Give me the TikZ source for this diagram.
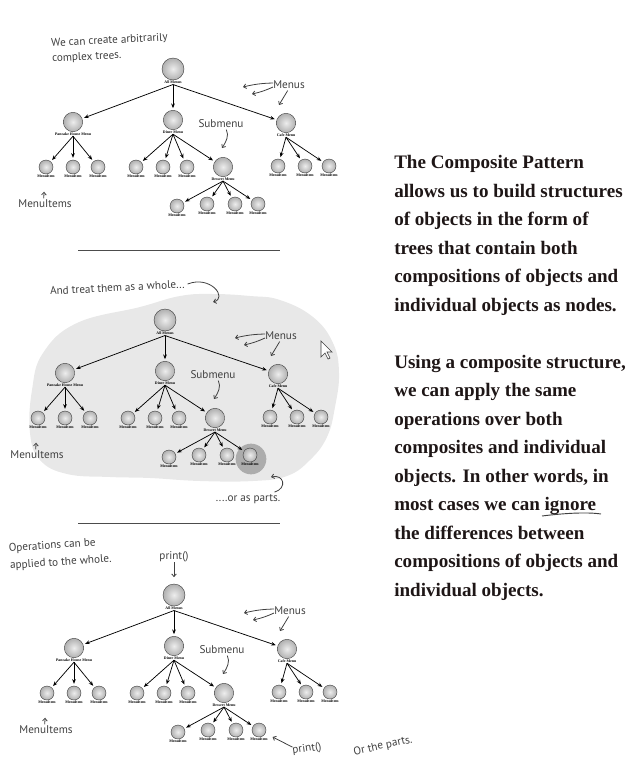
\documentclass[tikz,border=0pt]{standalone}
\usepackage{fontspec}
\setmainfont{Liberation Serif}
\newfontfamily\handfont{PT Sans}
\usetikzlibrary{arrows.meta}
\definecolor{ink}{RGB}{30,22,22}

\tikzset{
  menu/.style={circle, shading=radial, inner color=gray!14, outer color=gray!62, draw=gray!45!black, line width=0.3pt, inner sep=0pt},
  rootball/.style={menu, minimum size=16.5pt},
  subball/.style={menu, minimum size=14.5pt},
  itemball/.style={menu, minimum size=10.5pt},
  tag/.style={anchor=north, inner sep=0.4pt, font=\bfseries\fontsize{2.9}{3.2}\selectfont},
  link/.style={-{Stealth[length=3.5pt,width=2.8pt]}, line width=0.55pt, shorten >=1.5pt},
  note/.style={inner sep=0pt, text=black!75, font=\handfont\fontsize{8.4}{11.5}\selectfont},
  pointer/.style={-{Straight Barb[length=2pt,width=3.5pt]}, line width=0.6pt, draw=black!75},
}

\begin{document}
\begin{tikzpicture}[x=0.75pt, y=-0.75pt]
  \useasboundingbox (0,0) rectangle (636,760);

  % the whole, and one part of it
  \fill[gray!18] plot[smooth cycle, tension=0.7] coordinates {(180,296) (213,294) (250,296) (280,300)
    (313,317) (333,343) (339,373) (335,407) (327,437) (310,460) (287,476) (253,481) (200,481)
    (150,478) (110,477) (67,474) (40,460) (30,433) (32,390) (43,353) (77,323) (140,307)};
  \fill[gray!65] (251,459) circle (11.5pt);

  \foreach \tree/\dx/\dy in {top/0/0, mid/-8/251, bot/1/526}{
    \begin{scope}[shift={(\dx,\dy)}]
      \node[rootball] (\tree-root) at (173,69) {};
      \node[tag] (\tree-rootl) at (\tree-root.south) {All Menus};

      \node[subball] (\tree-pancake) at (73,122) {};
      \node[tag] (\tree-pancakel) at (\tree-pancake.south) {Pancake House Menu};
      \node[subball] (\tree-diner) at (173,120) {};
      \node[tag] (\tree-dinerl) at (\tree-diner.south) {Diner Menu};
      \node[subball] (\tree-cafe) at (286,123) {};
      \node[tag] (\tree-cafel) at (\tree-cafe.south) {Cafe Menu};
      \node[subball] (\tree-dessert) at (223,167) {};
      \node[tag] (\tree-dessertl) at (\tree-dessert.south) {Dessert Menu};

      \foreach \n/\x/\y in {p1/46/167, p2/73/167, p3/98/167, d1/136/167, d2/163/167, d3/187/167,
                            c1/278/166, c2/305/166, c3/329/166,
                            k1/177/206, k2/207/204, k3/235/204, k4/258/204}{
        \node[itemball] (\tree-\n) at (\x,\y) {};
        \node[tag] (\tree-\n-l) at (\tree-\n.south) {MenuItem};
      }

      \foreach \child in {pancake, diner, cafe}
        \draw[link] (\tree-rootl.south) -- (\tree-\child);
      \foreach \child in {p1, p2, p3}
        \draw[link] (\tree-pancakel.south) -- (\tree-\child);
      \foreach \child in {d1, d2, d3, dessert}
        \draw[link] (\tree-dinerl.south) -- (\tree-\child);
      \foreach \child in {c1, c2, c3}
        \draw[link] (\tree-cafel.south) -- (\tree-\child);
      \foreach \child in {k1, k2, k3, k4}
        \draw[link] (\tree-dessertl.south) -- (\tree-\child);

      % notes
      \node[note] (\tree-menus) at (289,85) {Menus};
      \coordinate (\tree-menusa) at (243,87);
      \coordinate (\tree-menusb) at (252,94);
      \coordinate (\tree-menusc) at (279,105);
      \draw[pointer] ([yshift=1.5pt]\tree-menus.west) to[bend right=6] (\tree-menusa);
      \draw[pointer] ([yshift=-1.5pt]\tree-menus.west) to[bend left=6] (\tree-menusb);
      \draw[pointer] ([shift={(-1pt,-1pt)}]\tree-menus.south) -- (\tree-menusc);

      \node[note] (\tree-submenu) at (221,124) {Submenu};
      \coordinate (\tree-subend) at (222,148);
      \draw[pointer] ([xshift=4pt,yshift=-1pt]\tree-submenu.south) .. controls +(3,6) and +(4,-6) .. (\tree-subend);

      \node[note] (\tree-items) at (45,204) {MenuItems};
      \draw[pointer, shorten >=10pt, shorten <=1pt] ([xshift=-1pt]\tree-items.north) -- ([xshift=-1pt]\tree-p1-l.south);
    \end{scope}
  }

  % top
  \node[note, anchor=base west, rotate=3, align=left] (trees) at (52,62) {We can create arbitrarily\\complex trees.};
  \draw[gray!60!black, line width=0.6pt] (78,250) -- (280,250);

  % middle
  \node[note, anchor=base west, rotate=3] (whole) at (50,295) {And treat them as a whole...};
  \coordinate (wholeend) at (213,302);
  \draw[pointer] ([xshift=2pt]whole.east) .. controls +(23,-9) and +(15,-4) .. (wholeend);
  \node[note] (parts) at (248,499) {....or as parts.};
  \coordinate (partsend) at (271,477);
  \draw[pointer] ([shift={(-4.5pt,1.5pt)}]parts.north east) .. controls +(13,-4) and +(13,-3) .. (partsend);
  \filldraw[fill=white, draw=black!75, line width=0.5pt] (321,341) -- (321,357) -- (325,353) -- (328,359)
    -- (330,358) -- (327,352) -- (332,352) -- cycle;
  \draw[gray!60!black, line width=0.6pt] (78,523) -- (280,523);

  % bottom
  \node[note, anchor=base west, rotate=4, align=left, font=\handfont\fontsize{8.4}{13}\selectfont] (ops) at (10,569) {Operations can be\\applied to the whole.};
  \node[note] (print) at (174,557) {print()};
  \draw[pointer, shorten >=5pt] (print.south) -- (bot-root);
  \node[note, rotate=8] (printpart) at (307,749) {print()};
  \draw[pointer, shorten >=6pt] ([yshift=3pt]printpart.west) -- (bot-k4);
  \node[note, rotate=12] (orparts) at (383,746) {Or the parts.};

  % the text
  \node[anchor=north west, align=left, inner sep=0pt, text=ink,
        font=\bfseries\fontsize{14.3}{21.4}\selectfont] (pattern) at (394,155)
    {The Composite Pattern\\allows us to build structures\\of objects in the form of\\trees that contain both\\
     compositions of objects and\\individual objects as nodes.\\[21.4pt]
     Using a composite structure,\\we can apply the same\\operations over both\\
     composites and individual\\objects.  In other words, in\\most cases we can ignore\\
     the differences between\\compositions of objects and\\individual objects.};
  \draw[black!75, line width=0.7pt] (542,516) .. controls (566,513) and (588,512) .. (601,514);
\end{tikzpicture}
\end{document}
